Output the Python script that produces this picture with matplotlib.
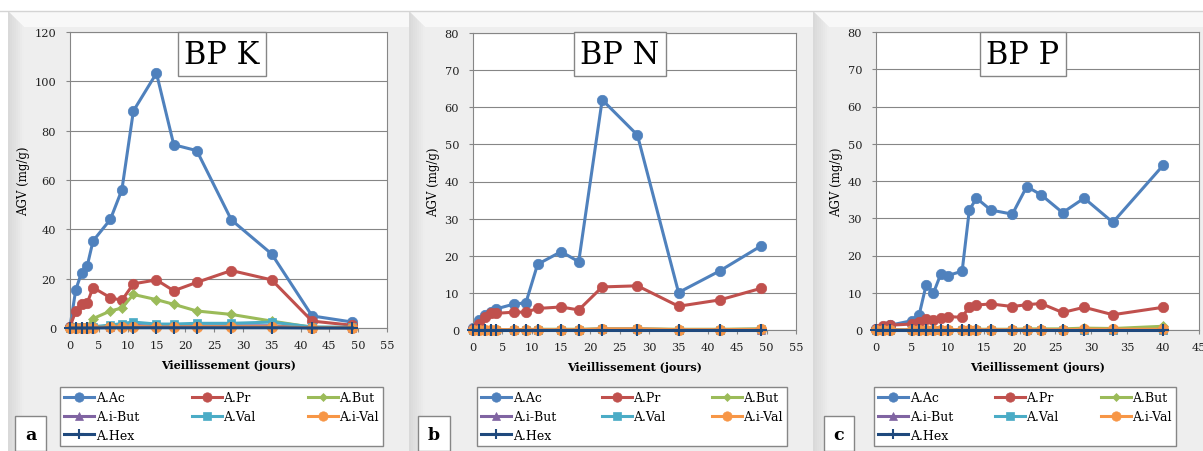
import matplotlib
matplotlib.use("Agg")
import matplotlib.pyplot as plt
from matplotlib.patches import Polygon, Rectangle

W, H = 1203, 452

# ---- data ----
series_names = ["A.Ac", "A.Pr", "A.But", "A.i-But", "A.Val", "A.i-Val", "A.Hex"]

days_k = [0, 1, 2, 3, 4, 7, 9, 11, 15, 18, 22, 28, 35, 42, 49]
ac_k = [0.5, 15.5, 22.4, 25.3, 35.3, 44.0, 56.0, 88.0, 103.3, 74.3, 71.9, 43.8, 30.0, 4.9, 2.4]
pr_k = [0.5, 6.9, 9.6, 10.2, 16.4, 12.3, 11.2, 17.9, 19.5, 15.1, 18.5, 23.3, 19.5, 2.8, 1.1]
but_k = [0.0, 0.1, 0.2, 0.5, 3.8, 6.9, 8.1, 13.6, 11.5, 9.6, 6.9, 5.5, 2.8, 0.3, 0.2]
ibut_k = [0.1, 0.2, 0.3, 0.3, 0.4, 0.6, 0.8, 1.0, 0.8, 0.8, 0.8, 0.9, 0.9, 0.2, 0.1]
val_k = [0.2, 0.3, 0.4, 0.4, 0.5, 1.2, 1.8, 2.4, 1.6, 1.6, 1.9, 1.9, 2.4, 0.4, 0.3]
ival_k = [0.1, 0.1, 0.2, 0.2, 0.2, 0.4, 0.5, 0.6, 0.4, 0.4, 0.5, 0.5, 0.5, 0.1, 0.1]
hex_k = [0.0, 0.0, 0.0, 0.0, 0.0, 0.1, 0.1, 0.1, 0.1, 0.1, 0.1, 0.1, 0.1, 0.0, 0.0]

days_n = [0, 1, 2, 3, 4, 7, 9, 11, 15, 18, 22, 28, 35, 42, 49]
ac_n = [0.5, 2.7, 4.0, 4.8, 5.7, 7.0, 7.3, 17.7, 21.1, 18.4, 62.0, 52.5, 10.1, 15.9, 22.6]
pr_n = [0.3, 1.6, 3.4, 4.5, 4.5, 4.8, 4.8, 5.8, 6.2, 5.4, 11.6, 11.9, 6.4, 8.1, 11.2]
but_n = [0.0, 0.1, 0.1, 0.1, 0.1, 0.1, 0.1, 0.2, 0.2, 0.2, 0.3, 0.3, 0.2, 0.2, 0.3]
ibut_n = [0.0, 0.1, 0.1, 0.1, 0.1, 0.1, 0.1, 0.1, 0.1, 0.1, 0.2, 0.2, 0.1, 0.1, 0.1]
val_n = [0.0, 0.1, 0.1, 0.1, 0.1, 0.1, 0.1, 0.1, 0.1, 0.1, 0.2, 0.2, 0.1, 0.1, 0.2]
ival_n = [0.0, 0.1, 0.1, 0.1, 0.1, 0.1, 0.1, 0.1, 0.1, 0.1, 0.3, 0.3, 0.1, 0.1, 0.2]
hex_n = [0.0] * 15

days_p = [0, 1, 2, 5, 6, 7, 8, 9, 10, 12, 13, 14, 16, 19, 21, 23, 26, 29, 33, 40]
ac_p = [0.2, 0.7, 1.3, 2.5, 4.0, 12.2, 9.9, 14.9, 14.6, 15.8, 32.2, 35.4, 32.2, 31.1,
        38.5, 36.3, 31.5, 35.4, 28.9, 44.2]
pr_p = [0.2, 1.1, 1.3, 1.6, 2.2, 2.9, 2.8, 3.2, 3.6, 3.4, 6.3, 6.7, 7.0, 6.3,
        6.8, 7.1, 4.7, 6.1, 4.1, 6.1]
but_p = [0.0, 0.0, 0.0, 0.0, 0.0, 0.1, 0.1, 0.1, 0.1, 0.1, 0.2, 0.2, 0.2, 0.2,
         0.3, 0.3, 0.3, 0.5, 0.4, 1.0]
ibut_p = [0.0] * 3 + [0.1] * 17
val_p = [0.0] * 3 + [0.1] * 17
ival_p = [0.0] * 3 + [0.1] * 14 + [0.2, 0.2, 0.2]
hex_p = [0.0] * 20

panels = [
    ("BP K", "a", days_k, [ac_k, pr_k, but_k, ibut_k, val_k, ival_k, hex_k], 120, 20, 55),
    ("BP N", "b", days_n, [ac_n, pr_n, but_n, ibut_n, val_n, ival_n, hex_n], 80, 10, 55),
    ("BP P", "c", days_p, [ac_p, pr_p, but_p, ibut_p, val_p, ival_p, hex_p], 80, 10, 45),
]

# ---- styles ----
colors = ["#4F81BD", "#C0504D", "#9BBB59", "#8064A2", "#4BACC6", "#F79646", "#1F497D"]
markers = ["o", "o", "D", "^", "s", "o", "+"]
msizes = [7.5, 7.5, 5, 6, 6, 7.5, 8]

# pixel layout: frame, plot area, legend box, letter box
frames = [(8, 409), (409, 813), (813, 1203)]
plots = [(70, 387, 33, 329), (473, 796, 34, 331), (876, 1199, 33, 331)]
legends = [(60, 383, 388), (477, 787, 388), (874, 1176, 388)]
letters = [(15, 46), (418, 450), (824, 854)]
title_cx = [222, 620, 1023]

plt.rcParams["font.family"] = ["DejaVu Serif"]


def fx(x):
    return x / W


def fy(y):
    return 1 - y / H


fig = plt.figure(figsize=(W / 100, H / 100), dpi=100)
fig.patch.set_facecolor("white")

# frames with bevel
for x0, x1 in frames:
    fig.patches.append(Rectangle((fx(x0), 0), fx(x1 - x0), fy(12), transform=fig.transFigure,
                                 facecolor="#eeeeee", edgecolor="none", zorder=-2))
    top = [(x0, 12), (x1, 12), (x1, 28), (x0 + 16, 28)]
    fig.patches.append(Polygon([(fx(a), fy(b)) for a, b in top], transform=fig.transFigure,
                               facecolor="#f8f8f8", edgecolor="none", zorder=-2))
    steps = 8
    for i in range(steps):
        a0 = x0 + 16 * i / steps
        a1 = x0 + 16 * (i + 1) / steps
        shade = 0.85 + 0.08 * i / (steps - 1)
        pts = [(a0, 12 + 16 * i / steps), (a1, 12 + 16 * (i + 1) / steps), (a1, H), (a0, H)]
        fig.patches.append(Polygon([(fx(a), fy(b)) for a, b in pts], transform=fig.transFigure,
                                   facecolor=(shade, shade, shade), edgecolor="none", zorder=-2))
fig.lines.append(plt.Line2D([0, 1], [fy(12), fy(12)], transform=fig.transFigure,
                            color="#d4d4d4", lw=1, zorder=-1))

for k, (title, letter, days, vals, ymax, ystep, xmax) in enumerate(panels):
    l, r, t, b = plots[k]
    ax = fig.add_axes([fx(l), fy(b), fx(r - l), (b - t) / H])
    ax.set_facecolor("white")
    handles = []
    for j, name in enumerate(series_names):
        h, = ax.plot(days, vals[j], color=colors[j], marker=markers[j], ms=msizes[j],
                     lw=2.2, mew=1.5 if markers[j] == "+" else 0.5,
                     mec=colors[j], label=name, clip_on=False, zorder=2 + j)
        handles.append(h)
    ax.set_xlim(0, xmax)
    ax.set_ylim(0, ymax)
    ax.set_xticks(range(0, xmax + 1, 5))
    ax.set_yticks(range(0, ymax + 1, ystep))
    ax.grid(axis="y", color="#868686", lw=0.8)
    ax.set_axisbelow(True)
    for s in ax.spines.values():
        s.set_color("#868686")
        s.set_linewidth(0.8)
    ax.tick_params(axis="both", direction="out", length=3, color="#868686",
                   labelsize=8.2, labelcolor="#222222")
    ax.tick_params(axis="x", pad=6)
    ax.tick_params(axis="y", pad=7)
    ax.set_xlabel("Vieillissement (jours)", fontsize=8, fontweight="bold", labelpad=6)
    ax.set_ylabel("AGV (mg/g)", fontsize=8.5, labelpad=3)

    fig.text(fx(title_cx[k]), fy(55), title, fontsize=22, ha="center", va="center",
             bbox=dict(boxstyle="square,pad=0.2", fc="white", ec="#868686", lw=1))

    order = [0, 3, 6, 1, 4, 2, 5]
    lx0, lx1, ly = legends[k]
    fig.legend([handles[i] for i in order], [series_names[i] for i in order],
               ncol=3, mode="expand", loc="upper left",
               bbox_to_anchor=(fx(lx0), fy(ly) - 0.2, fx(lx1 - lx0), 0.2),
               bbox_transform=fig.transFigure, frameon=True, fancybox=False,
               edgecolor="#868686", framealpha=1, fontsize=9, handlelength=2.4,
               handletextpad=0.1, labelspacing=0.45, borderpad=0.35, borderaxespad=0,
               markerscale=0.9)

    a0, a1 = letters[k]
    fig.patches.append(Rectangle((fx(a0), fy(452)), fx(a1 - a0), (452 - 417) / H,
                                 transform=fig.transFigure, facecolor="white",
                                 edgecolor="#868686", lw=1, zorder=3))
    fig.text(fx((a0 + a1) / 2), fy(436), letter, fontsize=12.5, fontweight="bold",
             ha="center", va="center")

fig.savefig("out.png", dpi=100)
